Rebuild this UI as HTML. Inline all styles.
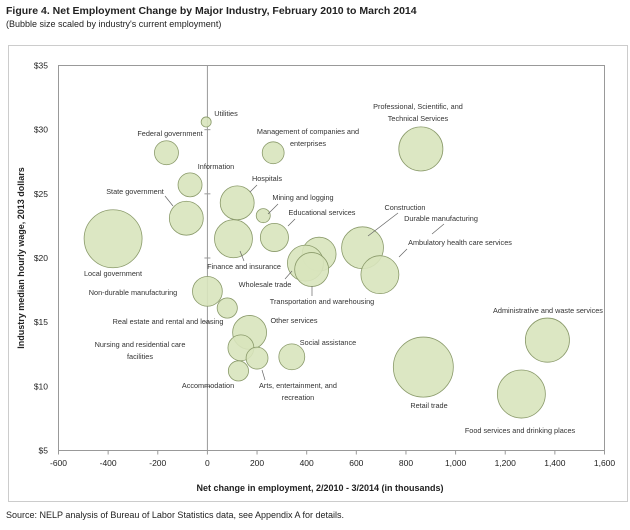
<!DOCTYPE html>
<html><head><meta charset="utf-8"><style>
html,body{margin:0;padding:0;background:#fff;}
body{width:630px;height:525px;overflow:hidden;font-family:"Liberation Sans",sans-serif;}
</style></head><body>
<svg width="630" height="525" viewBox="0 0 630 525" font-family="Liberation Sans, sans-serif">
<text x="6" y="14" font-size="10.5" font-weight="bold" fill="#222">Figure 4. Net Employment Change by Major Industry, February 2010 to March 2014</text>
<text x="6" y="27" font-size="9" fill="#222">(Bubble size scaled by industry's current employment)</text>
<rect x="8.5" y="45.5" width="619" height="456" fill="none" stroke="#ccc"/>
<rect x="58.5" y="65.5" width="546" height="385" fill="none" stroke="#999"/>
<g id="axes"></g>
<g id="bubbles"></g>
<g id="labels" font-size="7.3" fill="#333" text-anchor="middle"></g>
<text x="320" y="491" font-size="9" font-weight="bold" text-anchor="middle" fill="#222">Net change in employment, 2/2010 - 3/2014 (in thousands)</text>
<text transform="translate(24,258) rotate(-90)" font-size="9" font-weight="bold" text-anchor="middle" fill="#222">Industry median hourly wage, 2013 dollars</text>
<text x="6" y="518" font-size="9" fill="#222">Source: NELP analysis of Bureau of Labor Statistics data, see Appendix A for details.</text>
</svg>
<script>
const industries=["Utilities","Federal government","Management of companies and enterprises","Professional, Scientific, and Technical Services","Information","State government","Hospitals","Mining and logging","Educational services","Finance and insurance","Construction","Durable manufacturing","Ambulatory health care services","Wholesale trade","Transportation and warehousing","Local government","Non-durable manufacturing","Real estate and rental and leasing","Other services","Nursing and residential care facilities","Arts, entertainment, and recreation","Accommodation","Social assistance","Retail trade","Administrative and waste services","Food services and drinking places"];
const netChange=[-5,-165,265,860,-70,-85,120,225,270,105,450,625,695,395,420,-380,0,80,170,135,200,125,340,870,1370,1265];
const wage=[30.6,28.2,28.2,28.5,25.7,23.1,24.3,23.3,21.6,21.5,20.3,20.8,18.7,19.6,19.1,21.5,17.4,16.1,14.2,13.0,12.2,11.2,12.3,11.5,13.6,9.4];
const employment=[420,2400,2000,8100,2400,4800,4800,820,3300,6000,4800,7300,6000,5400,4800,14000,3700,1700,4800,2800,2000,1700,2800,15000,8100,9600];
const xTicks=[-600,-400,-200,0,200,400,600,800,1000,1200,1400,1600];
const xTickLabels=["-600","-400","-200","0","200","400","600","800","1,000","1,200","1,400","1,600"];
const yTicks=[5,10,15,20,25,30,35];
const yTickLabels=["$5","$10","$15","$20","$25","$30","$35"];

const X0=58.5,X1=604.5,Y0=450.5,Y1=65.5;
function xs(v){return X0+(v+600)/2200*(X1-X0);}
function ys(v){return Y0-(v-5)/30*(Y0-Y1);}
function rs(v){return 0.245*Math.sqrt(v);}
const NS="http://www.w3.org/2000/svg";
function mk(tag,attrs,parent){const e=document.createElementNS(NS,tag);for(const k in attrs)e.setAttribute(k,attrs[k]);parent.appendChild(e);return e;}
const axes=document.getElementById('axes');
xTicks.forEach((t,i)=>{
  const tx=mk('text',{x:xs(t),y:466,'font-size':8.5,'text-anchor':'middle',fill:'#222'},axes);
  tx.textContent=xTickLabels[i];
  
  
  const tk=mk('line',{x1:xs(t),x2:xs(t),y1:Y0,y2:Y0+4,stroke:'#999'},axes);
  
  
});
yTicks.forEach((t,i)=>{
  const tx=mk('text',{x:48,y:ys(t)+3,'font-size':8.5,'text-anchor':'end',fill:'#222'},axes);
  tx.textContent=yTickLabels[i];
  
  
  const tk=mk('line',{x1:xs(0)-3,x2:xs(0)+3,y1:ys(t),y2:ys(t),stroke:'#999'},axes);
  
  
});
const zl=mk('line',{x1:xs(0),x2:xs(0),y1:Y1,y2:Y0,stroke:'#999'},axes);


const bg=document.getElementById('bubbles');
industries.forEach((n,i)=>{
  const c=mk('circle',{cx:xs(netChange[i]),cy:ys(wage[i]),r:rs(employment[i]),fill:'#d8e4bc','fill-opacity':0.9,stroke:'#8a9a6a','stroke-width':0.8},bg);
  
  
});
const labels=[
 [["Utilities"],226,116],[["Federal government"],170,136],[["Management of companies and","enterprises"],308,134],
 [["Professional, Scientific, and","Technical Services"],418,109],[["Information"],216,169],[["State government"],135,194],
 [["Hospitals"],267,181],[["Mining and logging"],303,200],[["Educational services"],322,215],[["Construction"],405,210],
 [["Durable manufacturing"],441,221],[["Ambulatory health care services"],460,245],[["Local government"],113,276],
 [["Finance and insurance"],244,269],[["Wholesale trade"],265,287],[["Non-durable manufacturing"],133,295],
 [["Transportation and warehousing"],322,304],[["Real estate and rental and leasing"],168,324],[["Other services"],294,323],
 [["Administrative and waste services"],548,313],[["Nursing and residential care","facilities"],140,347],
 [["Social assistance"],328,345],[["Accommodation"],208,388],[["Arts, entertainment, and","recreation"],298,388],
 [["Retail trade"],429,408],[["Food services and drinking places"],520,433]];
const lg=document.getElementById('labels');
labels.forEach(l=>{
  l[0].forEach((s,j)=>{
    const t=mk('text',{x:l[1],y:l[2]+j*12},lg);
    t.textContent=s;
    
    
  });
});
const leaders=[[165,196,173,206],[257,185,250,192],[278,204,268,214],[295,219,288,226],[398,213,368,236],[444,224,432,234],[407,249,399,257],[240,251,244,261],[285,279,292,271],[312,286,312,296],[262,370,265,380]];
leaders.forEach(p=>{
  const ln=mk('line',{x1:p[0],y1:p[1],x2:p[2],y2:p[3],stroke:'#666','stroke-width':0.7},lg);
  
  
});
</script>
</body></html>
